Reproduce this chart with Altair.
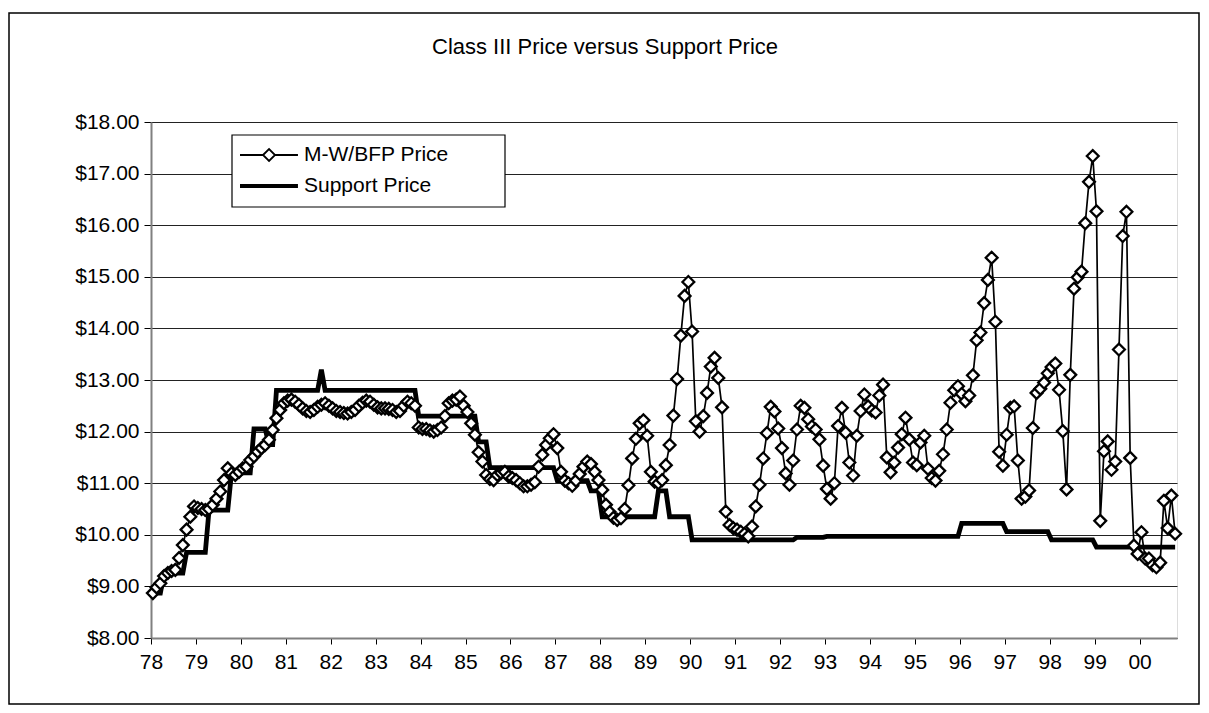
import altair as alt
import pandas as pd

TITLE = "Class III Price versus Support Price"
SERIES = ["M-W/BFP Price", "Support Price"]
YEAR_LABEL_START = 78

# Monthly M-W / BFP price, Jan 1978 .. Oct 2000
mw_1978 = [8.87, 8.98, 9.06, 9.20, 9.26, 9.30, 9.32, 9.55, 9.80, 10.10, 10.35, 10.55]
mw_1979 = [10.52, 10.50, 10.48, 10.50, 10.58, 10.70, 10.84, 11.06, 11.29, 11.19, 11.16, 11.22]
mw_1980 = [11.29, 11.32, 11.45, 11.52, 11.61, 11.68, 11.74, 11.84, 12.03, 12.26, 12.42, 12.55]
mw_1981 = [12.60, 12.62, 12.58, 12.52, 12.45, 12.40, 12.38, 12.42, 12.48, 12.52, 12.55, 12.50]
mw_1982 = [12.45, 12.40, 12.38, 12.36, 12.35, 12.38, 12.42, 12.50, 12.56, 12.60, 12.58, 12.52]
mw_1983 = [12.47, 12.45, 12.45, 12.44, 12.42, 12.38, 12.40, 12.50, 12.58, 12.55, 12.50, 12.08]
mw_1984 = [12.05, 12.05, 12.02, 12.00, 12.03, 12.08, 12.30, 12.55, 12.60, 12.62, 12.68, 12.50]
mw_1985 = [12.38, 12.16, 11.94, 11.60, 11.42, 11.16, 11.08, 11.06, 11.16, 11.20, 11.22, 11.13]
mw_1986 = [11.10, 11.06, 11.00, 10.94, 10.94, 10.97, 11.02, 11.32, 11.55, 11.74, 11.87, 11.95]
mw_1987 = [11.68, 11.22, 11.05, 11.00, 10.95, 11.05, 11.18, 11.32, 11.42, 11.37, 11.22, 11.06]
mw_1988 = [10.87, 10.58, 10.44, 10.33, 10.29, 10.32, 10.50, 10.96, 11.48, 11.86, 12.16, 12.22]
mw_1989 = [11.92, 11.22, 11.03, 11.00, 11.06, 11.35, 11.74, 12.31, 13.02, 13.86, 14.63, 14.90]
mw_1990 = [13.94, 12.20, 12.00, 12.30, 12.75, 13.26, 13.43, 13.04, 12.47, 10.45, 10.19, 10.13]
mw_1991 = [10.10, 10.06, 10.02, 9.97, 10.16, 10.55, 10.97, 11.48, 11.97, 12.48, 12.39, 12.06]
mw_1992 = [11.68, 11.19, 10.97, 11.44, 12.04, 12.50, 12.46, 12.24, 12.10, 12.04, 11.85, 11.34]
mw_1993 = [10.89, 10.70, 11.00, 12.11, 12.46, 11.98, 11.40, 11.15, 11.92, 12.40, 12.72, 12.49]
mw_1994 = [12.41, 12.37, 12.70, 12.91, 11.50, 11.21, 11.40, 11.69, 11.95, 12.27, 11.85, 11.40]
mw_1995 = [11.35, 11.79, 11.92, 11.28, 11.10, 11.05, 11.24, 11.56, 12.04, 12.56, 12.80, 12.88]
mw_1996 = [12.73, 12.59, 12.70, 13.09, 13.77, 13.92, 14.49, 14.94, 15.37, 14.13, 11.61, 11.34]
mw_1997 = [11.94, 12.46, 12.49, 11.44, 10.70, 10.74, 10.86, 12.07, 12.75, 12.83, 12.95, 13.13]
mw_1998 = [13.25, 13.32, 12.81, 12.01, 10.88, 13.10, 14.77, 14.99, 15.10, 16.04, 16.84, 17.34]
mw_1999 = [16.27, 10.27, 11.62, 11.81, 11.26, 11.42, 13.59, 15.79, 16.26, 11.49, 9.79, 9.63]
mw_2000 = [10.05, 9.54, 9.54, 9.41, 9.37, 9.46, 10.66, 10.13, 10.76, 10.02]

# Monthly support price (3.5% basis), same months
sp_1978 = [8.87, 8.87, 8.87, 9.26, 9.26, 9.26, 9.26, 9.26, 9.26, 9.66, 9.66, 9.66]
sp_1979 = [9.66, 9.66, 9.66, 10.48, 10.48, 10.48, 10.48, 10.48, 10.48, 11.20, 11.20, 11.20]
sp_1980 = [11.20, 11.20, 11.20, 12.05, 12.05, 12.05, 12.05, 11.75, 11.75, 12.80, 12.80, 12.80]
sp_1981 = [12.80, 12.80, 12.80, 12.80, 12.80, 12.80, 12.80, 12.80, 12.80, 13.20, 12.80, 12.80]
sp_1982 = [12.80, 12.80, 12.80, 12.80, 12.80, 12.80, 12.80, 12.80, 12.80, 12.80, 12.80, 12.80]
sp_1983 = [12.80, 12.80, 12.80, 12.80, 12.80, 12.80, 12.80, 12.80, 12.80, 12.80, 12.80, 12.30]
sp_1984 = [12.30, 12.30, 12.30, 12.30, 12.30, 12.30, 12.30, 12.30, 12.30, 12.30, 12.30, 12.30]
sp_1985 = [12.30, 12.30, 12.30, 11.80, 11.80, 11.80, 11.30, 11.30, 11.30, 11.30, 11.30, 11.30]
sp_1986 = [11.30, 11.30, 11.30, 11.30, 11.30, 11.30, 11.30, 11.30, 11.30, 11.30, 11.30, 11.30]
sp_1987 = [11.05, 11.05, 11.05, 11.05, 11.05, 11.05, 11.05, 11.05, 11.05, 10.85, 10.85, 10.85]
sp_1988 = [10.35, 10.35, 10.35, 10.35, 10.35, 10.35, 10.35, 10.35, 10.35, 10.35, 10.35, 10.35]
sp_1989 = [10.35, 10.35, 10.35, 10.85, 10.85, 10.85, 10.35, 10.35, 10.35, 10.35, 10.35, 10.35]
sp_1990 = [9.90, 9.90, 9.90, 9.90, 9.90, 9.90, 9.90, 9.90, 9.90, 9.90, 9.90, 9.90]
sp_1991 = [9.90, 9.90, 9.90, 9.90, 9.90, 9.90, 9.90, 9.90, 9.90, 9.90, 9.90, 9.90]
sp_1992 = [9.90, 9.90, 9.90, 9.90, 9.95, 9.95, 9.95, 9.95, 9.95, 9.95, 9.95, 9.95]
sp_1993 = [9.97, 9.97, 9.97, 9.97, 9.97, 9.97, 9.97, 9.97, 9.97, 9.97, 9.97, 9.97]
sp_1994 = [9.97, 9.97, 9.97, 9.97, 9.97, 9.97, 9.97, 9.97, 9.97, 9.97, 9.97, 9.97]
sp_1995 = [9.97, 9.97, 9.97, 9.97, 9.97, 9.97, 9.97, 9.97, 9.97, 9.97, 9.97, 9.97]
sp_1996 = [10.22, 10.22, 10.22, 10.22, 10.22, 10.22, 10.22, 10.22, 10.22, 10.22, 10.22, 10.22]
sp_1997 = [10.06, 10.06, 10.06, 10.06, 10.06, 10.06, 10.06, 10.06, 10.06, 10.06, 10.06, 10.06]
sp_1998 = [9.90, 9.90, 9.90, 9.90, 9.90, 9.90, 9.90, 9.90, 9.90, 9.90, 9.90, 9.90]
sp_1999 = [9.76, 9.76, 9.76, 9.76, 9.76, 9.76, 9.76, 9.76, 9.76, 9.76, 9.76, 9.76]
sp_2000 = [9.76, 9.76, 9.76, 9.76, 9.76, 9.76, 9.76, 9.76, 9.76, 9.76]

Y_TICKS = [8, 9, 10, 11, 12, 13, 14, 15, 16, 17, 18]

mw = (mw_1978 + mw_1979 + mw_1980 + mw_1981 + mw_1982 + mw_1983 + mw_1984 + mw_1985
      + mw_1986 + mw_1987 + mw_1988 + mw_1989 + mw_1990 + mw_1991 + mw_1992 + mw_1993
      + mw_1994 + mw_1995 + mw_1996 + mw_1997 + mw_1998 + mw_1999 + mw_2000)
sp = (sp_1978 + sp_1979 + sp_1980 + sp_1981 + sp_1982 + sp_1983 + sp_1984 + sp_1985
      + sp_1986 + sp_1987 + sp_1988 + sp_1989 + sp_1990 + sp_1991 + sp_1992 + sp_1993
      + sp_1994 + sp_1995 + sp_1996 + sp_1997 + sp_1998 + sp_1999 + sp_2000)
n = len(mw)

rows = []
for i in range(n):
    rows.append({"m": i + 0.5, "value": mw[i], "series": SERIES[0]})
for i in range(n):
    rows.append({"m": i + 0.5, "value": sp[i], "series": SERIES[1]})
df = pd.DataFrame(rows)

FONT = "Liberation Sans"
FS = 21

x_enc = alt.X(
    "m:Q",
    scale=alt.Scale(domain=[0, n], nice=False, zero=False),
    axis=alt.Axis(
        values=list(range(0, n, 12)),
        labelExpr=f"format(({YEAR_LABEL_START} + datum.value / 12) % 100, '02d')",
        title=None, grid=False, labelFontSize=FS, labelFont=FONT, labelColor="black",
        tickColor="black", tickSize=6, domainColor="#808080", domainWidth=2,
        labelPadding=7, labelFlush=False, labelOverlap=False,
    ),
)
y_enc = alt.Y(
    "value:Q",
    scale=alt.Scale(domain=[8, 18], nice=False, zero=False),
    axis=alt.Axis(
        values=Y_TICKS, format="$.2f", title=None, grid=True, gridColor="#222",
        gridWidth=1, labelFontSize=FS, labelFont=FONT, labelColor="black",
        tickColor="black", tickSize=7, domainColor="#808080", domainWidth=2,
        labelPadding=5,
    ),
)

base = alt.Chart(df)

# legend box background (white, black border) drawn beneath the legend entries
legend_box = alt.Chart(pd.DataFrame({"k": [0]})).mark_rect(
    fill="white", stroke="black", strokeWidth=1.2, clip=False
).encode(
    x=alt.value(81), x2=alt.value(354), y=alt.value(13), y2=alt.value(85)
)

support_line = base.transform_filter(alt.datum.series == SERIES[1]).mark_line(
    color="black", strokeWidth=4.8, strokeJoin="miter"
).encode(x=x_enc, y=y_enc)

mw_line = base.transform_filter(alt.datum.series == SERIES[0]).mark_line(
    color="black", strokeWidth=1.7
).encode(x=x_enc, y=y_enc)

mw_points = base.transform_filter(alt.datum.series == SERIES[0]).mark_point(
    shape="diamond", filled=True, fill="white", stroke="black", strokeWidth=2.3,
    size=140, opacity=1,
).encode(x=x_enc, y=y_enc)

MW_SYMBOL = "M-1,0L0.92,0M1.92,0L3.83,0M0.92,0L1.42,-0.5L1.92,0L1.42,0.5Z"
SP_SYMBOL = "M-1,-0.1L3.83,-0.1M-1,0L3.83,0M-1,0.1L3.83,0.1"

legend_layer = base.mark_point(opacity=0, stroke="black").encode(
    x=x_enc, y=y_enc,
    shape=alt.Shape(
        "series:N",
        scale=alt.Scale(domain=SERIES, range=[MW_SYMBOL, SP_SYMBOL]),
        legend=alt.Legend(
            title=None, orient="none", legendX=81, legendY=13,
            padding=7,
            symbolSize=576, symbolStrokeColor="black", symbolStrokeWidth=1.8,
            symbolFillColor="white", symbolOpacity=1,
            labelFontSize=FS, labelFont=FONT, labelColor="black",
            labelOffset=39, rowPadding=8, labelLimit=500,
        ),
    ),
)

frame = alt.Chart(pd.DataFrame({"k": [0]})).mark_rect(
    fill=None, stroke="black", strokeWidth=1.5, clip=False
).encode(
    x=alt.value(-142), x2=alt.value(1048), y=alt.value(-109), y2=alt.value(582)
)

chart = alt.layer(
    legend_box, support_line, mw_line, mw_points, legend_layer, frame
).properties(
    width=1026, height=516,
    title=alt.TitleParams(
        TITLE, fontSize=22, font=FONT, fontWeight="normal", color="black",
        anchor="middle", frame="group", dx=-59, offset=-47,
    ),
    autosize=alt.AutoSizeParams(type="none"),
    padding={"left": 143, "top": 114, "right": 24, "bottom": 67},
).configure_view(stroke="#808080", strokeWidth=2).configure(background="white")

chart.save("out.html", embed_options={"renderer": "svg", "actions": False})
